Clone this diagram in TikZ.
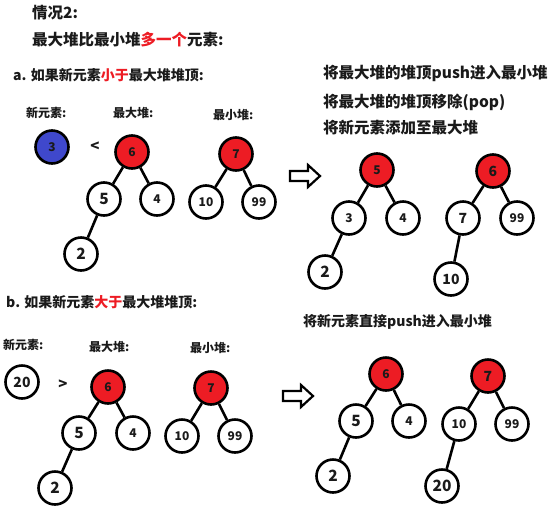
\documentclass[tikz,border=0pt]{standalone}
\usepackage{fontspec}
\setmainfont{Noto Sans CJK SC}
\definecolor{pred}{HTML}{ED1C24}
\definecolor{pblue}{HTML}{3F48CC}
\definecolor{ink}{HTML}{1A1A1A}
\begin{document}
\begin{tikzpicture}[x=1pt,y=-1pt,
  nd/.style={circle, draw=black, line width=2.6pt, fill=white, minimum size=33pt, inner sep=0pt, text=ink, font=\bfseries\fontsize{12}{12}\selectfont},
  rd/.style={nd, fill=pred},
  bd/.style={nd, fill=pblue},
  bignum/.style={font=\bfseries\fontsize{15.5}{15.5}\selectfont},
  midnum/.style={font=\bfseries\fontsize{14}{14}\selectfont},
  edge/.style={line width=2.6pt},
  txt/.style={anchor=west, inner sep=0pt, text=ink},
  head/.style={txt, font=\bfseries\fontsize{15.5}{15.5}\selectfont},
  sub/.style={txt, font=\bfseries\fontsize{14}{14}\selectfont},
  lab/.style={txt, font=\bfseries\fontsize{12}{12}\selectfont},
  harrow/.pic={\draw[line width=2.2pt, line join=miter, fill=white] (-15,-5) -- (3,-5) -- (3,-11) -- (15,0) -- (3,11) -- (3,5) -- (-15,5) -- cycle;}
]
\path[use as bounding box] (0,0) rectangle (554,512);

% headings
\node[head] (t1) at (32,13) {情况2:};
\node[head] (t2) at (32,40) {最大堆比最小堆\textcolor{pred}{多一个}元素:};
\node[sub] (ta) at (13,75) {a. 如果新元素\textcolor{pred}{小于}最大堆堆顶:};

% part a labels
\node[lab] (la1) at (26,113) {新元素:};
\node[lab] (la2) at (113,113) {最大堆:};
\node[lab] (la3) at (213,115) {最小堆:};

% part a left
\node[bd] (a3) at (52,147) {3};
\node[font=\bfseries\fontsize{15}{15}\selectfont, text=ink] (alt) at (95,147) {<};
\node[rd] (a6) at (132,152) {6};
\node[nd, bignum] (a5) at (104,199) {5};
\node[nd] (a4) at (157,199) {4};
\node[nd, bignum] (a2) at (81,254) {2};
\node[rd] (a7) at (236,154) {7};
\node[nd] (a10) at (206,202) {10};
\node[nd] (a99) at (259,202) {99};
\draw[edge] (a6) -- (a5); \draw[edge] (a6) -- (a4); \draw[edge] (a5) -- (a2);
\draw[edge] (a7) -- (a10); \draw[edge] (a7) -- (a99);

% part a right text
\node[head] (r1) at (323,73) {将最大堆的堆顶push进入最小堆};
\node[head] (r2) at (323,102) {将最大堆的堆顶移除(pop)};
\node[head] (r3) at (323,128) {将新元素添加至最大堆};

\pic at (305,176) {harrow};

\node[rd] (r5) at (377,170) {5};
\node[nd] (r3n) at (349,218) {3};
\node[nd] (r4) at (403,218) {4};
\node[nd, bignum] (r2n) at (325,272) {2};
\node[rd, midnum] (r6) at (493,171) {6};
\node[nd, midnum] (r7) at (463,218) {7};
\node[nd] (r99) at (517,218) {99};
\node[nd, midnum] (r10) at (451,279) {10};
\draw[edge] (r5) -- (r3n); \draw[edge] (r5) -- (r4); \draw[edge] (r3n) -- (r2n);
\draw[edge] (r6) -- (r7); \draw[edge] (r6) -- (r99); \draw[edge] (r7) -- (r10);

% part b
\node[sub] (tb) at (6,302) {b. 如果新元素\textcolor{pred}{大于}最大堆堆顶:};
\node[lab] (lb1) at (3,345) {新元素:};
\node[lab] (lb2) at (89,347) {最大堆:};
\node[lab] (lb3) at (190,348) {最小堆:};

\node[nd, midnum] (b20) at (22,382) {20};
\node[font=\bfseries\fontsize{15}{15}\selectfont, text=ink] (bgt) at (63,385) {>};
\node[rd] (b6) at (108,387) {6};
\node[nd, bignum] (b5) at (79,433) {5};
\node[nd] (b4) at (133,433) {4};
\node[nd, bignum] (b2) at (55,488) {2};
\node[rd] (b7) at (211,388) {7};
\node[nd] (b10) at (182,436) {10};
\node[nd] (b99) at (235,436) {99};
\draw[edge] (b6) -- (b5); \draw[edge] (b6) -- (b4); \draw[edge] (b5) -- (b2);
\draw[edge] (b7) -- (b10); \draw[edge] (b7) -- (b99);

\node[sub] (tbr) at (303,322) {将新元素直接push进入最小堆};
\pic at (298,396) {harrow};

\node[rd] (s6) at (386,374) {6};
\node[nd, bignum] (s5) at (356,421) {5};
\node[nd] (s4) at (409,421) {4};
\node[nd, bignum] (s2) at (333,476) {2};
\node[rd, midnum] (s7) at (488,376) {7};
\node[nd] (s10) at (459,424) {10};
\node[nd] (s99) at (512,424) {99};
\node[nd, bignum] (s20) at (442,486) {20};
\draw[edge] (s6) -- (s5); \draw[edge] (s6) -- (s4); \draw[edge] (s5) -- (s2);
\draw[edge] (s7) -- (s10); \draw[edge] (s7) -- (s99); \draw[edge] (s10) -- (s20);
\end{tikzpicture}
\end{document}
